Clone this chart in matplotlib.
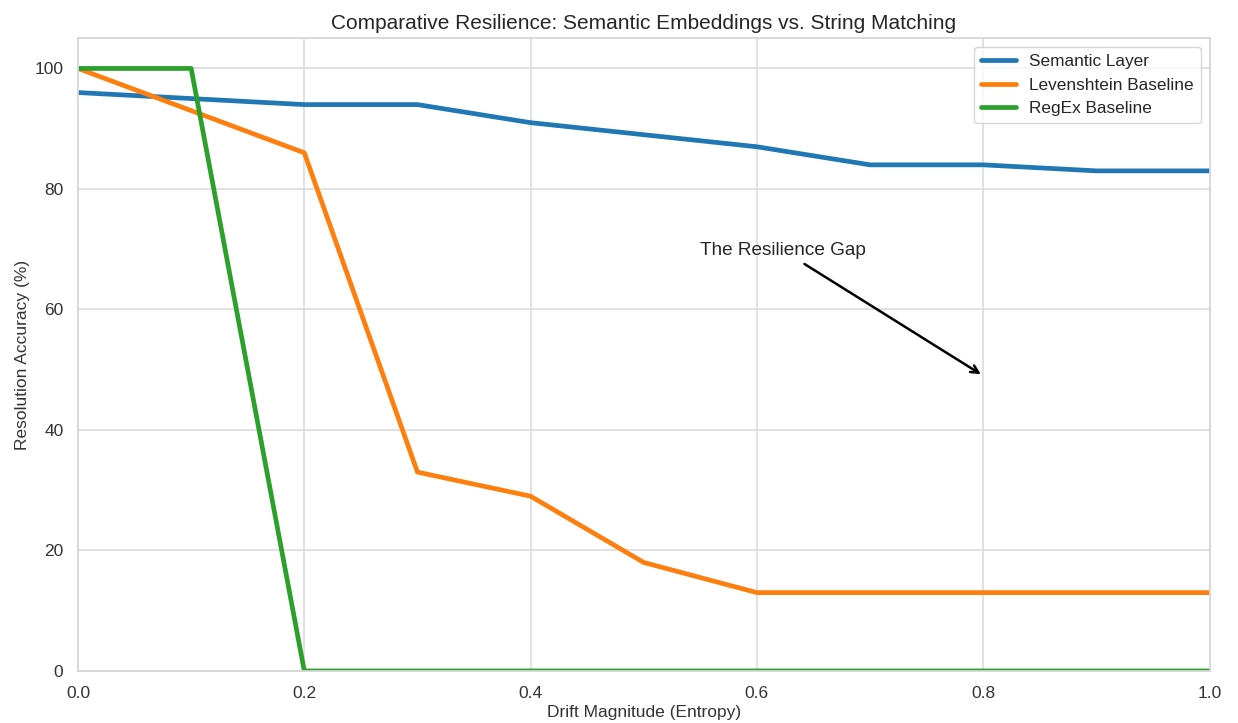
import numpy as np
import matplotlib.pyplot as plt
import seaborn as sns

drift = [0.0, 0.1, 0.2, 0.3, 0.4, 0.5, 0.6, 0.7, 0.8, 0.9, 1.0]
semantic = [96, 95, 94, 94, 91, 89, 87, 84, 84, 83, 83]
levenshtein = [100, 93, 86, 33, 29, 18, 13, 13, 13, 13, 13]
regex = [100, 100, 0, 0, 0, 0, 0, 0, 0, 0, 0]

sns.set_style("whitegrid")
plt.rcParams['font.family'] = ['Liberation Sans', 'DejaVu Sans']

fig, ax = plt.subplots(figsize=(12.38, 7.23), dpi=100)
fig.subplots_adjust(left=0.063, right=0.977, top=0.947, bottom=0.072)

ax.plot(drift, semantic, lw=3.4, color='#1f77b4', label='Semantic Layer')
ax.plot(drift, levenshtein, lw=3.4, color='#ff7f0e', label='Levenshtein Baseline')
ax.plot(drift, regex, lw=3.4, color='#2ca02c', label='RegEx Baseline')

ax.set_xlim(0, 1)
ax.set_ylim(0, 105)
ax.grid(True, color='#dcdcdc', lw=1.2)
for s in ax.spines.values():
    s.set_color('#d6d6d6')
    s.set_linewidth(1.3)

ax.set_title("Comparative Resilience: Semantic Embeddings vs. String Matching", fontsize=15, color='#262626', pad=7)
ax.set_xlabel("Drift Magnitude (Entropy)", fontsize=12.5, color='#333333', labelpad=3.5)
ax.set_ylabel("Resolution Accuracy (%)", fontsize=12.5, color='#333333', labelpad=3)
ax.tick_params(labelsize=12.5, colors='#333333', pad=7)

ax.annotate("The Resilience Gap", xy=(0.8, 49), xytext=(0.55, 69),
            fontsize=13.7, color='#262626',
            arrowprops=dict(arrowstyle='->', color='black', lw=1.8))

ax.legend(loc='upper right', fontsize=12.4)

fig.savefig("out.png")
